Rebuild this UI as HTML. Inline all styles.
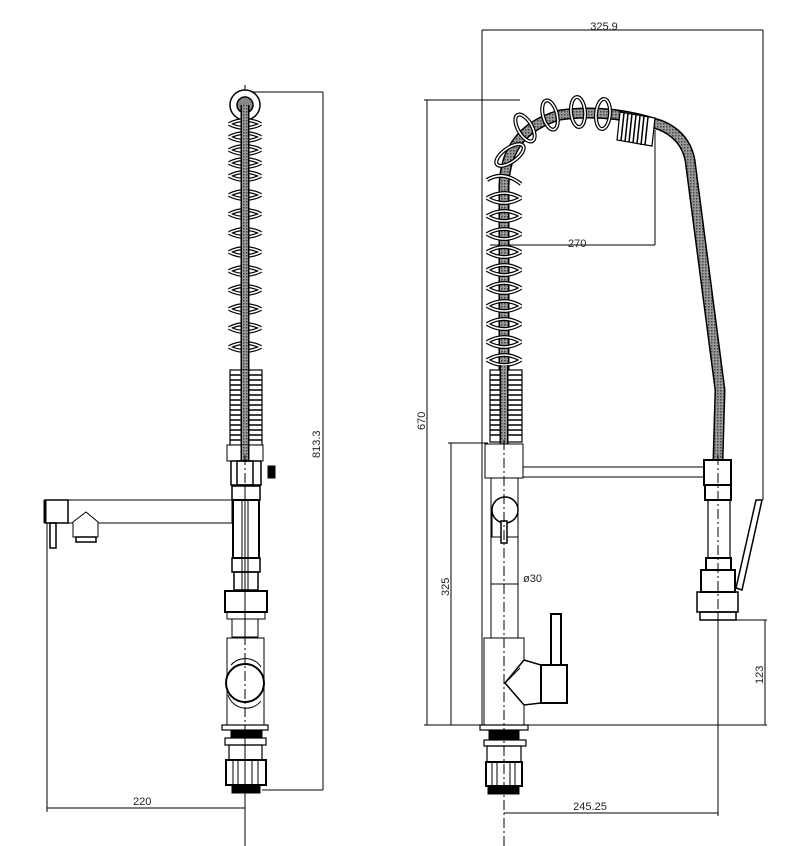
<!DOCTYPE html>
<html><head><meta charset="utf-8"><style>
html,body{margin:0;padding:0;background:#fff}
svg{display:block}
text{font-family:"Liberation Sans",sans-serif;font-size:11px;fill:#222}
</style></head><body>
<svg width="800" height="846" viewBox="0 0 800 846" xmlns="http://www.w3.org/2000/svg">
<defs>
<pattern id="hz" width="3" height="3" patternUnits="userSpaceOnUse"><rect width="3" height="3" fill="#999"/><rect width="1.5" height="1.5" fill="#444"/></pattern>
<g id="lc">
<path d="M229 124 q16 8 32 0 M229 137 q16 8 32 0 M229 150 q16 8 32 0 M229 163 q16 8 32 0 M229 176 q16 8 32 0 M229 195 q16 8 32 0 M229 214 q16 8 32 0 M229 233 q16 8 32 0 M229 252 q16 8 32 0 M229 271 q16 8 32 0 M229 290 q16 8 32 0 M229 309 q16 8 32 0 M229 328 q16 8 32 0 M229 347 q16 8 32 0"/>
<path d="M229 124 q16 -8 32 0 M229 137 q16 -8 32 0 M229 150 q16 -8 32 0 M229 163 q16 -8 32 0 M229 176 q16 -8 32 0 M229 195 q16 -8 32 0 M229 214 q16 -8 32 0 M229 233 q16 -8 32 0 M229 252 q16 -8 32 0 M229 271 q16 -8 32 0 M229 290 q16 -8 32 0 M229 309 q16 -8 32 0 M229 328 q16 -8 32 0 M229 347 q16 -8 32 0"/>
</g>
<g id="rc">
<path d="M487 180 q16 -10 34 4 M487 198 q17 10 34 0 M487 216 q17 10 34 0 M487 234 q17 10 34 0 M487 252 q17 10 34 0 M487 270 q17 10 34 0 M487 288 q17 10 34 0 M487 306 q17 10 34 0 M487 324 q17 10 34 0 M487 342 q17 10 34 0 M487 360 q17 10 34 0"/>
<path d="M487 198 q17 -10 34 0 M487 216 q17 -10 34 0 M487 234 q17 -10 34 0 M487 252 q17 -10 34 0 M487 270 q17 -10 34 0 M487 288 q17 -10 34 0 M487 306 q17 -10 34 0 M487 324 q17 -10 34 0 M487 342 q17 -10 34 0 M487 360 q17 -10 34 0"/>
<ellipse cx="510" cy="155" rx="16" ry="7" transform="rotate(-35 510 155)"/>
<ellipse cx="525" cy="128" rx="7" ry="15" transform="rotate(-30 525 128)"/>
<ellipse cx="550" cy="115" rx="7" ry="15" transform="rotate(-15 550 115)"/>
<ellipse cx="578" cy="112" rx="7" ry="15" transform="rotate(-5 578 112)"/>
<ellipse cx="603" cy="114" rx="7" ry="15" transform="rotate(5 603 114)"/>
</g>
</defs>
<g fill="none" stroke="#000" stroke-width="1">
<!-- LEFT VIEW dimension lines -->
<line x1="245" y1="85" x2="245" y2="846" stroke-dasharray="10,3,2,3"/>
<line x1="245" y1="92" x2="323" y2="92"/>
<line x1="262" y1="790" x2="323" y2="790"/>
<line x1="323" y1="92" x2="323" y2="790"/>
<line x1="47" y1="523" x2="47" y2="812"/>
<line x1="47" y1="808" x2="245" y2="808"/>

<!-- left hose -->
<circle cx="245" cy="105" r="15" stroke-width="1.5" fill="#fff"/>
<circle cx="245" cy="105" r="8" fill="#888" stroke-width="1.5"/>
<use href="#lc" stroke="#000" stroke-width="4"/>
<use href="#lc" stroke="#fff" stroke-width="1.6"/>
<line x1="245" y1="105" x2="245" y2="458" stroke="#000" stroke-width="9"/>
<line x1="245" y1="105" x2="245" y2="458" stroke="url(#hz)" stroke-width="6"/>
<rect x="230" y="370" width="32" height="75" fill="#fff" stroke-width="1.2"/>
<path d="M230 375H262M230 380H262M230 385H262M230 390H262M230 395H262M230 400H262M230 405H262M230 410H262M230 415H262M230 420H262M230 425H262M230 430H262M230 435H262M230 440H262" stroke-width="1.5"/>
<line x1="245" y1="370" x2="245" y2="458" stroke="#000" stroke-width="9"/>
<line x1="245" y1="370" x2="245" y2="458" stroke="url(#hz)" stroke-width="6"/>
<!-- left body -->
<rect x="227" y="445" width="36" height="16" fill="#fff"/>
<line x1="245" y1="445" x2="245" y2="461" stroke="#000" stroke-width="9"/>
<line x1="245" y1="445" x2="245" y2="461" stroke="url(#hz)" stroke-width="6"/>
<rect x="231" y="461" width="30" height="24" fill="#fff" stroke-width="1.5"/>
<rect x="237" y="461" width="16" height="24" stroke-width="1.5"/>
<rect x="268" y="466" width="7" height="12" fill="#000"/>
<rect x="232" y="486" width="28" height="14" stroke-width="1.5"/>
<!-- spout -->
<rect x="45" y="500" width="187" height="23" fill="#fff"/>
<rect x="45" y="500" width="23" height="23" fill="#fff" stroke-width="1.5"/>
<line x1="45" y1="500" x2="45" y2="523" stroke-width="3"/>
<rect x="50" y="523" width="6" height="25" stroke-width="1.5"/>
<path d="M73 522 L86 512 L98 522 L98 537 L73 537 Z" fill="#fff"/>
<rect x="76" y="537" width="20" height="5" stroke-width="1.5"/>
<rect x="233" y="500" width="26" height="58" stroke-width="2"/>
<line x1="242" y1="500" x2="242" y2="590"/><line x1="248" y1="500" x2="248" y2="590"/>
<rect x="232" y="558" width="28" height="14" stroke-width="1.5"/>
<rect x="234" y="572" width="24" height="18" stroke-width="1.5"/>
<rect x="225" y="591" width="42" height="21" stroke-width="2"/>
<rect x="227" y="612" width="38" height="7"/>
<rect x="232" y="619" width="26" height="18"/>
<rect x="227" y="638" width="37" height="87" fill="#fff"/>
<circle cx="245" cy="683" r="19" stroke-width="2" fill="#fff"/>
<path d="M231 665 a19 19 0 0 1 30 2 M228 695 a19 19 0 0 0 33 6"/>
<rect x="222" y="725" width="46" height="5" stroke-width="1.2"/>
<rect x="231" y="731" width="31" height="7" fill="#000"/>
<rect x="225" y="738" width="41" height="7" stroke-width="1.2"/>
<rect x="229" y="745" width="33" height="15" stroke-width="1.2"/>
<rect x="226" y="760" width="40" height="25" stroke-width="2"/>
<path d="M233 760V785M238 760V785M252 760V785M258 760V785"/>
<rect x="232" y="785" width="28" height="8" fill="#000"/>
<line x1="245" y1="455" x2="245" y2="846" stroke-dasharray="10,3,2,3"/>
</g>
<text x="133" y="805">220</text>
<text transform="translate(320,458) rotate(-90)">813.3</text>

<!-- RIGHT VIEW -->
<g fill="none" stroke="#000" stroke-width="1">
<line x1="482" y1="30" x2="763" y2="30"/>
<line x1="482" y1="30" x2="482" y2="725"/>
<line x1="763" y1="30" x2="763" y2="500"/>
<line x1="424" y1="100" x2="520" y2="100"/>
<line x1="427" y1="100" x2="427" y2="725"/>
<line x1="448" y1="443" x2="488" y2="443"/>
<line x1="451" y1="443" x2="451" y2="725"/>
<line x1="424" y1="725" x2="767" y2="725"/>
<line x1="718" y1="620" x2="767" y2="620"/>
<line x1="765" y1="620" x2="765" y2="725"/>
<line x1="718" y1="612" x2="718" y2="816"/>
<line x1="504" y1="813" x2="718" y2="813"/>
<line x1="490" y1="245" x2="655" y2="245"/>
<line x1="655" y1="130" x2="655" y2="245"/>
<line x1="491" y1="584" x2="518" y2="584"/>

<!-- hose -->
<path d="M504 440 L504 185 Q506 130 560 115 Q610 108 660 125 Q685 135 690 160 L720 390 L718 460" stroke="#000" stroke-width="11"/>
<path d="M504 440 L504 185 Q506 130 560 115 Q610 108 660 125 Q685 135 690 160 L720 390 L718 460" stroke="url(#hz)" stroke-width="8"/>
<use href="#rc" stroke="#000" stroke-width="4"/>
<use href="#rc" stroke="#fff" stroke-width="1.6"/>
<path d="M620 112 L655 118 L652 146 L617 140 Z" fill="#fff" stroke-width="1.2"/>
<path d="M624 113 L621 141 M628 113.5 L625 142 M632 114 L629 142 M636 115 L633 143 M640 116 L637 144 M644 116 L641 145 M648 117 L645 145" stroke-width="1.5"/>
<rect x="490" y="370" width="32" height="72" fill="#fff" stroke-width="1.2"/>
<path d="M490 375H522M490 380H522M490 385H522M490 390H522M490 395H522M490 400H522M490 405H522M490 410H522M490 415H522M490 420H522M490 425H522M490 430H522M490 435H522" stroke-width="1.5"/>
<line x1="504" y1="365" x2="504" y2="446" stroke="#000" stroke-width="9"/>
<line x1="504" y1="365" x2="504" y2="446" stroke="url(#hz)" stroke-width="6"/>
<!-- body -->
<rect x="485" y="444" width="38" height="34" fill="#fff"/>
<rect x="523" y="467" width="182" height="10" fill="#fff"/>
<rect x="491" y="478" width="27" height="160"/>
<circle cx="505" cy="510" r="13" fill="#fff" stroke-width="1.5"/>
<path d="M492 510 V537 H518 V510"/>
<rect x="501" y="521" width="6" height="22" fill="#fff" stroke-width="1.5"/>
<rect x="484" y="638" width="40" height="87" fill="#fff"/>
<path d="M505 683 L524 660 L541 665 L541 703 L524 705 Z" fill="#fff" stroke-width="1.5"/>
<path d="M505 683 L520 668 M505 683 L520 700"/>
<rect x="551" y="614" width="10" height="52" stroke-width="2"/>
<rect x="541" y="665" width="26" height="38" fill="#fff" stroke-width="2"/>
<line x1="504" y1="440" x2="504" y2="846" stroke-dasharray="10,3,2,3"/>
<rect x="480" y="725" width="48" height="5" stroke-width="1.2"/>
<rect x="489" y="731" width="30" height="8" fill="#000"/>
<rect x="484" y="740" width="42" height="6" stroke-width="1.2"/>
<rect x="487" y="746" width="34" height="16" stroke-width="1.2"/>
<rect x="486" y="762" width="36" height="24" stroke-width="2"/>
<path d="M492 762V786M497 762V786M510 762V786M515 762V786"/>
<rect x="488" y="786" width="31" height="8" fill="#000"/>
<!-- spray head -->
<rect x="704" y="460" width="27" height="25" fill="#fff" stroke-width="2"/>
<rect x="705" y="485" width="26" height="15" stroke-width="2"/>
<rect x="708" y="500" width="22" height="58" stroke-width="1.2"/>
<rect x="706" y="558" width="25" height="12" stroke-width="2"/>
<rect x="701" y="570" width="34" height="22" stroke-width="2"/>
<rect x="697" y="592" width="41" height="20" stroke-width="1.5"/>
<rect x="700" y="612" width="36" height="8" stroke-width="1.5"/>
<line x1="718" y1="455" x2="718" y2="620" stroke-dasharray="10,3,2,3"/>
<path d="M736 588 L756 500 L762 500 L742 590 Z" fill="#fff" stroke-width="1.5"/>
</g>
<text x="604" y="30" text-anchor="middle">325.9</text>
<text x="568" y="247">270</text>
<text x="523" y="582">ø30</text>
<text x="590" y="810" text-anchor="middle">245.25</text>
<text transform="translate(425,430) rotate(-90)">670</text>
<text transform="translate(449,596) rotate(-90)">325</text>
<text transform="translate(763,684) rotate(-90)">123</text>
</svg>
</body></html>
